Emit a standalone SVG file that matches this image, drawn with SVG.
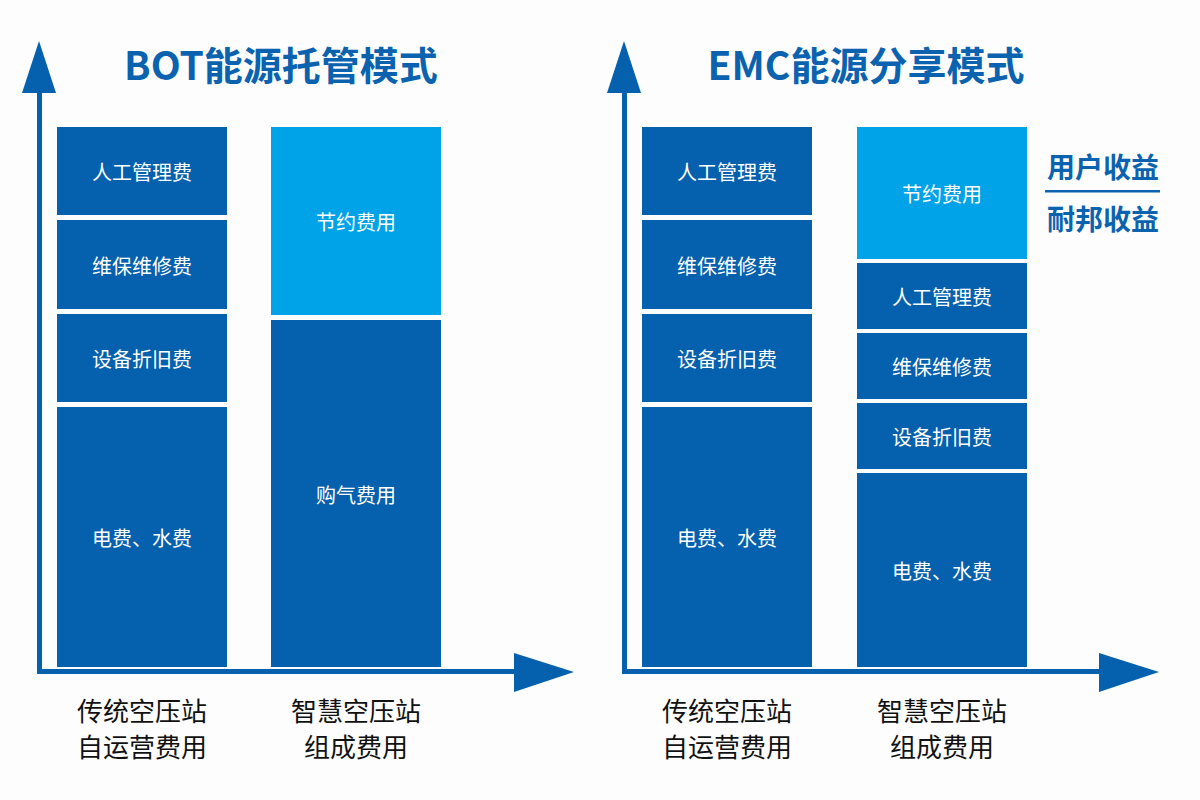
<svg xmlns="http://www.w3.org/2000/svg" width="1200" height="800" viewBox="0 0 1200 800">
<style>
.d{fill:#0560ad}.l{fill:#00a2e8}.ax{fill:#0560ad}
.t{font-family:"Noto Sans CJK SC","Noto Sans",sans-serif;font-weight:bold;font-size:39px;fill:#0b63b0;text-anchor:middle}
.w{font-family:"Noto Sans CJK SC",sans-serif;font-size:20px;fill:#fff;text-anchor:middle;dominant-baseline:central}
.k{font-family:"Noto Sans CJK SC",sans-serif;font-size:26px;fill:#111;text-anchor:middle}
.r{font-family:"Noto Sans CJK SC",sans-serif;font-weight:bold;font-size:28px;fill:#0b63b0;text-anchor:middle}
</style>
<rect width="1200" height="800" fill="#fdfdfd"/>
<g id="connectors">
<rect class="ax" x="37" y="88" width="5" height="586"/>
<polygon class="ax" points="39,41 56,93 22,93"/>
<rect class="ax" x="37" y="669" width="482" height="5"/>
<polygon class="ax" points="574,672 514,653 514,692"/>
<rect class="ax" x="622" y="88" width="5" height="586"/>
<polygon class="ax" points="624,41 641,93 607,93"/>
<rect class="ax" x="622" y="669" width="482" height="5"/>
<polygon class="ax" points="1159,672 1099,653 1099,692"/>
</g>
<text class="t" x="281" y="80">BOT能源托管模式</text>
<text class="t" x="866" y="80">EMC能源分享模式</text>
<g id="l1"><rect class="d" x="57" y="127" width="170" height="88"/><text class="w" x="142" y="171">人工管理费</text></g>
<g id="l2"><rect class="d" x="57" y="220" width="170" height="89"/><text class="w" x="142" y="265">维保维修费</text></g>
<g id="l3"><rect class="d" x="57" y="314" width="170" height="88"/><text class="w" x="142" y="358">设备折旧费</text></g>
<g id="l4"><rect class="d" x="57" y="407" width="170" height="260"/><text class="w" x="142" y="537">电费、水费</text></g>
<g id="l5"><rect class="l" x="271" y="127" width="170" height="188"/><text class="w" x="356" y="221">节约费用</text></g>
<g id="l6"><rect class="d" x="271" y="320" width="170" height="347"/><text class="w" x="356" y="494">购气费用</text></g>
<g id="r1"><rect class="d" x="642" y="127" width="170" height="88"/><text class="w" x="727" y="171">人工管理费</text></g>
<g id="r2"><rect class="d" x="642" y="220" width="170" height="89"/><text class="w" x="727" y="265">维保维修费</text></g>
<g id="r3"><rect class="d" x="642" y="314" width="170" height="88"/><text class="w" x="727" y="358">设备折旧费</text></g>
<g id="r4"><rect class="d" x="642" y="407" width="170" height="260"/><text class="w" x="727" y="537">电费、水费</text></g>
<g id="r5"><rect class="l" x="857" y="127" width="170" height="132"/><text class="w" x="942" y="193">节约费用</text></g>
<g id="r6"><rect class="d" x="857" y="263" width="170" height="66"/><text class="w" x="942" y="296">人工管理费</text></g>
<g id="r7"><rect class="d" x="857" y="333" width="170" height="66"/><text class="w" x="942" y="366">维保维修费</text></g>
<g id="r8"><rect class="d" x="857" y="403" width="170" height="66"/><text class="w" x="942" y="436">设备折旧费</text></g>
<g id="r9"><rect class="d" x="857" y="473" width="170" height="194"/><text class="w" x="942" y="570">电费、水费</text></g>
<g id="rl">
<text class="r" x="1103" y="178">用户收益</text>
<rect x="1045" y="190" width="115" height="2.5" fill="#0b63b0"/>
<text class="r" x="1103" y="230">耐邦收益</text>
</g>
<text class="k" x="142" y="721">传统空压站</text><text class="k" x="142" y="757">自运营费用</text>
<text class="k" x="356" y="721">智慧空压站</text><text class="k" x="356" y="757">组成费用</text>
<text class="k" x="727" y="721">传统空压站</text><text class="k" x="727" y="757">自运营费用</text>
<text class="k" x="942" y="721">智慧空压站</text><text class="k" x="942" y="757">组成费用</text>
</svg>
